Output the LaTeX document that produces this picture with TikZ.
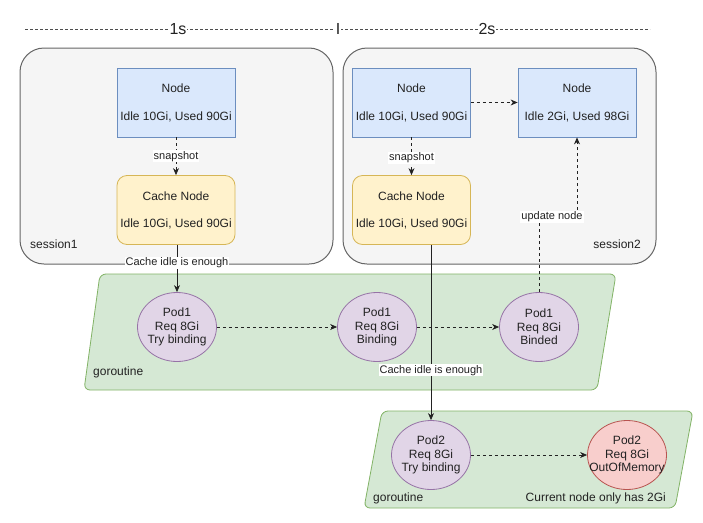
\documentclass[tikz,border=0pt]{standalone}
\usepackage{fontspec}
\setmainfont{Liberation Sans}
\usetikzlibrary{shapes.geometric,arrows.meta}
\definecolor{sessfill}{HTML}{F5F5F5}
\definecolor{sessdraw}{HTML}{666666}
\definecolor{bluefill}{HTML}{DAE8FC}
\definecolor{bluedraw}{HTML}{6C8EBF}
\definecolor{yelfill}{HTML}{FFF2CC}
\definecolor{yeldraw}{HTML}{D6B656}
\definecolor{grnfill}{HTML}{D5E8D4}
\definecolor{grndraw}{HTML}{82B366}
\definecolor{purfill}{HTML}{E1D5E7}
\definecolor{purdraw}{HTML}{9673A6}
\definecolor{redfill}{HTML}{F8CECC}
\definecolor{reddraw}{HTML}{B85450}
\definecolor{ink}{HTML}{222222}
\newcommand{\zbox}[1]{\makebox[20pt][c]{#1}}
\begin{document}
\begin{tikzpicture}[x=1pt,y=-1pt,
  every node/.style={text=ink},
  sess/.style={draw=sessdraw,fill=sessfill,line width=1pt,rounded corners=24pt,minimum width=313pt,minimum height=216pt,inner sep=0pt},
  nodebox/.style={draw=bluedraw,fill=bluefill,line width=0.8pt,minimum width=118pt,minimum height=69pt,inner sep=0pt,align=center,font=\fontsize{12}{14}\selectfont},
  cachebox/.style={nodebox,draw=yeldraw,fill=yelfill,rounded corners=10pt},
  gor/.style={draw=grndraw,fill=grnfill,line width=0.8pt,rounded corners=6pt},
  pod/.style={ellipse,draw=purdraw,fill=purfill,line width=0.8pt,minimum width=79pt,minimum height=69pt,inner sep=0pt,align=center,font=\fontsize{12}{13.5}\selectfont},
  oom/.style={pod,draw=reddraw,fill=redfill},
  lbl/.style={fill=white,inner sep=1pt,font=\fontsize{11}{13}\selectfont},
  txt/.style={inner sep=0pt,font=\fontsize{12}{14}\selectfont},
  edge/.style={draw=ink,line width=0.8pt,-{Stealth[length=7pt,width=6pt]}},
  dedge/.style={edge,dash pattern=on 3pt off 3pt},
  tl/.style={fill=white,inner sep=1pt,font=\fontsize{16}{18}\selectfont}
]
\useasboundingbox (0,0) rectangle (703,522);
% timeline
\coordinate (tla) at (25,29);
\coordinate (tlb) at (650,29);
\draw[draw=ink!80,line width=0.7pt,dash pattern=on 3pt off 2pt] (tla) -- (tlb);
\node[tl] (t1) at (178,29) {1s};
\node[tl] (tm) at (338,29) {I};
\node[tl] (t2) at (487,29) {2s};
% sessions
\node[sess] (s1) at (176.5,156) {};
\node[sess] (s2) at (499.5,156) {};
\node[txt,anchor=west] (s1l) at (30,244) {session1};
\node[txt,anchor=east] (s2l) at (641,244) {session2};
% goroutines
\draw[gor] (100,274) -- (616,274) -- (597,390) -- (84,390) -- cycle;
\draw[gor] (382,411) -- (693,411) -- (675,508) -- (364,508) -- cycle;
\node[txt,anchor=west] (g1l) at (93,372) {goroutine};
\node[txt,anchor=west] (g2l) at (373,498) {goroutine};
\node[txt,anchor=east] (g2r) at (666,498) {Current node only has 2Gi};
% session1
\node[nodebox] (n1) at (176,102.5) {Node\\[14pt]Idle 10Gi, Used 90Gi};
\node[cachebox] (c1) at (176,210) {Cache Node\\[13pt]Idle 10Gi, Used 90Gi};
% session2
\node[nodebox] (n2) at (411.5,102.5) {Node\\[14pt]Idle 10Gi, Used 90Gi};
\node[nodebox] (n3) at (577,102.5) {Node\\[14pt]Idle 2Gi, Used 98Gi};
\node[cachebox] (c2) at (411.5,210) {Cache Node\\[13pt]Idle 10Gi, Used 90Gi};
% pods
\node[pod] (p1a) at (177,327) {Pod1\\Req 8Gi\\\zbox{Try binding}};
\node[pod] (p1b) at (377,327) {Pod1\\Req 8Gi\\Binding};
\node[pod] (p1c) at (539,327) {Pod1\\Req 8Gi\\Binded};
\node[pod] (p2a) at (431,455) {Pod2\\Req 8Gi\\\zbox{Try binding}};
\node[oom] (p2b) at (627,455) {Pod2\\Req 8Gi\\\zbox{OutOfMemory}};
% edges
\draw[dedge] (n1) -- node[lbl] {snapshot} (c1);
\draw[dedge] (n2) -- node[lbl,pos=0.55] {snapshot} (c2);
\draw[dedge] (n2) -- (n3);
\draw[edge] (c1.south -| p1a.north) -- node[lbl,pos=0.38] {Cache idle is enough} (p1a.north);
\draw[dedge] (p1a) -- (p1b);
\draw[dedge] (p1b) -- (p1c);
\draw[edge] (c2.south -| p2a.north) -- node[lbl,pos=0.715] {Cache idle is enough} (p2a.north);
\draw[dedge] (p2a) -- (p2b);
\coordinate (un) at (552,217);
\draw[dedge] (p1c.north) |- (un) -| (n3.south);
\node[lbl] (unl) at (un) {update node};
\end{tikzpicture}
\end{document}
